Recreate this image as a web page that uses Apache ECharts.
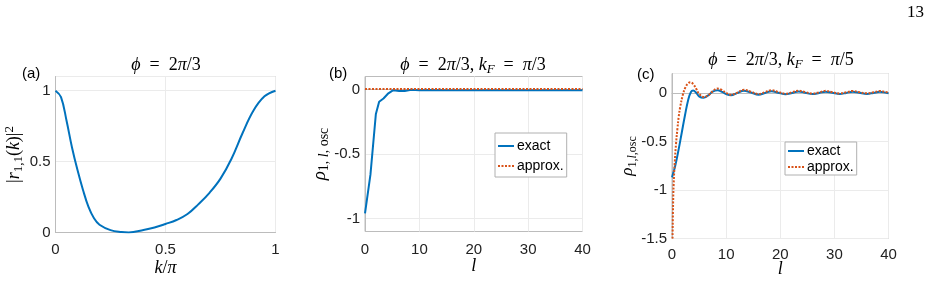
<!DOCTYPE html>
<html>
<head>
<meta charset="utf-8">
<script src="https://cdn.jsdelivr.net/npm/echarts@6/dist/echarts.min.js"></script>
<style>
  html, body { margin: 0; padding: 0; background: #fff; }
  #main { width: 934px; height: 305px; }
</style>
</head>
<body>
<div id="main"></div>
<script>
// (a) |r_{1,1}(k)|^2 against k/pi
const kA = [0, 0.025, 0.05, 0.075, 0.1, 0.125, 0.15, 0.175, 0.2, 0.25, 0.3, 0.333, 0.4, 0.45, 0.5, 0.55, 0.6, 0.65, 0.7, 0.75, 0.8, 0.85, 0.9, 0.95, 1];
const rA = [1, 0.955, 0.79, 0.6, 0.44, 0.3, 0.18, 0.1, 0.055, 0.017, 0.003, 0, 0.017, 0.035, 0.06, 0.088, 0.13, 0.2, 0.28, 0.38, 0.52, 0.7, 0.86, 0.96, 1];

// (b) k_F = pi/3
const lB = [0, 1, 2, 2.6, 3.4, 4.3, 5.2, 6.3, 7.3, 8.5, 10, 12, 15, 20, 30, 40];
const exactB = [-0.96, -0.66, -0.19, -0.095, -0.07, -0.03, -0.006, -0.012, -0.012, -0.003, -0.006, -0.005, -0.006, -0.006, -0.006, -0.006];
const lBa = [0, 40];
const approxB = [0.004, 0.004];

// (c) k_F = pi/5
const lC = [0, 0.6, 1.2, 1.8, 2.4, 3.0, 3.5, 3.9, 4.5, 5.0, 5.8, 6.7, 7.5, 8.4, 9.3, 10.0, 10.9, 12.0, 13.3, 14.6, 16.0, 17.2, 18.4, 19.6, 21.0, 22.2, 23.4, 24.6, 26.0, 27.2, 28.4, 29.6, 31.0, 32.2, 33.4, 34.6, 36.0, 37.2, 38.4, 39.6, 40];
const exactC = [-0.87, -0.75, -0.59, -0.41, -0.23, -0.07, 0.01, 0.025, 0.0, -0.035, -0.05, -0.025, 0.012, 0.028, 0.01, -0.012, -0.025, -0.002, 0.022, 0.004, -0.018, 0.0, 0.018, 0.002, -0.014, 0.0, 0.015, 0.001, -0.012, 0.0, 0.013, 0.001, -0.011, 0.0, 0.012, 0.001, -0.01, 0.0, 0.011, 0.001, -0.004];
const lCa = [0.1, 0.2, 0.3, 0.5, 0.75, 1.0, 1.25, 1.5, 2.0, 2.5, 3.0, 3.4, 4.0, 4.5, 5.0, 5.9, 6.8, 7.6, 8.3, 9.2, 10.0, 10.9, 12.0, 13.3, 14.6, 16.0, 17.2, 18.4, 19.6, 21.0, 22.2, 23.4, 24.6, 26.0, 27.2, 28.4, 29.6, 31.0, 32.2, 33.4, 34.6, 36.0, 37.2, 38.4, 39.6, 40];
const approxC = [-1.5, -1.15, -0.95, -0.72, -0.52, -0.37, -0.24, -0.15, -0.02, 0.06, 0.1, 0.11, 0.085, 0.04, -0.01, -0.042, -0.02, 0.02, 0.045, 0.03, 0.0, -0.02, 0.0, 0.032, 0.012, -0.012, 0.008, 0.027, 0.01, -0.008, 0.007, 0.023, 0.008, -0.006, 0.006, 0.021, 0.008, -0.005, 0.006, 0.02, 0.008, -0.004, 0.006, 0.019, 0.008, 0.004];

const zip = (xs, ys) => xs.map((x, i) => [x, ys[i]]);

const BLUE = '#0072BD';
const ORANGE = '#D95319';
const BOX = '#bcbcbc';
const GRIDC = '#ebebeb';
const SANS = 'Liberation Sans, Arial, sans-serif';
const SERIF = 'Liberation Serif, DejaVu Serif, serif';
const EQ = '\u2002=\u2002';

// rich styles for the LaTeX-ish labels
function math(size, sub) {
  const base = { fontFamily: SERIF, fontSize: size, fontWeight: 'normal', color: '#000', lineHeight: 22 };
  return {
    n: base,
    i: Object.assign({}, base, { fontStyle: 'italic' }),
    sub: { fontFamily: SERIF, fontSize: sub, fontWeight: 'normal', color: '#000', verticalAlign: 'bottom' },
    isub: { fontFamily: SERIF, fontSize: sub, fontWeight: 'normal', fontStyle: 'italic', color: '#000', verticalAlign: 'bottom' },
    sup: { fontFamily: SERIF, fontSize: sub, fontWeight: 'normal', color: '#000', verticalAlign: 'top' }
  };
}

function xAx(idx, min, max, interval, name, gap, margin) {
  return {
    type: 'value', gridIndex: idx, min: min, max: max, interval: interval,
    name: name, nameLocation: 'middle', nameGap: gap, nameMoveOverlap: false,
    nameTextStyle: { rich: math(18, 13) },
    axisLine: { show: true, lineStyle: { color: BOX, width: 1 } },
    axisTick: { show: false },
    axisLabel: { color: '#222', fontFamily: SANS, fontSize: 15, margin: margin },
    splitLine: { show: true, lineStyle: { color: GRIDC, width: 1 } }
  };
}

function yAx(idx, min, max, interval, name, gap, rich) {
  return {
    type: 'value', gridIndex: idx, min: min, max: max, interval: interval,
    name: name, nameLocation: 'middle', nameRotate: 90, nameGap: gap, nameMoveOverlap: false,
    nameTextStyle: { rich: rich },
    axisLine: { show: true, lineStyle: { color: BOX, width: 1 } },
    axisTick: { show: false },
    axisLabel: { color: '#222', fontFamily: SANS, fontSize: 15, margin: 5, showMaxLabel: false },
    splitLine: { show: true, lineStyle: { color: GRIDC, width: 1 } }
  };
}

const yB = yAx(1, -1.1, 0.1, 0.1, '{i|ρ}{sub|1, }{isub|l}{sub|, osc}', 34, math(19, 14));
yB.axisLabel.formatter = function (v) {
  return Math.abs(v * 2 - Math.round(v * 2)) < 1e-6 ? String(Math.round(v * 2) / 2) : '';
};
// only every 5th line (at -1, -0.5, 0) is drawn
yB.splitLine.lineStyle.color = ['rgba(0,0,0,0)', GRIDC, 'rgba(0,0,0,0)', 'rgba(0,0,0,0)', 'rgba(0,0,0,0)'];

const legendBase = {
  orient: 'vertical', itemWidth: 16, itemHeight: 12,
  backgroundColor: '#fff', borderColor: '#b0b0b0', borderWidth: 1, borderRadius: 0,
  itemStyle: { opacity: 0 },
  textStyle: { fontFamily: SANS, fontSize: 14, lineHeight: 14, color: '#000', padding: [0, 0, 0, -2] },
  data: ['exact', 'approx.']
};

const titleRich = math(18, 13);

const option = {
  animation: false,
  backgroundColor: '#fff',
  title: [
    { text: '{i|ϕ}{n|' + EQ + '2}{i|π}{n|/3}', left: 166, top: 54, padding: 0, textAlign: 'center', textStyle: { rich: titleRich } },
    { text: '{i|ϕ}{n|' + EQ + '2}{i|π}{n|/3, }{i|k}{isub|F}{n|' + EQ + '}{i|π}{n|/3}', left: 473, top: 54, padding: 0, textAlign: 'center', textStyle: { rich: titleRich } },
    { text: '{i|ϕ}{n|' + EQ + '2}{i|π}{n|/3, }{i|k}{isub|F}{n|' + EQ + '}{i|π}{n|/5}', left: 781, top: 49, padding: 0, textAlign: 'center', textStyle: { rich: titleRich } },
    { text: '(a)', left: 22, top: 66, padding: 0, textStyle: { fontFamily: SANS, fontSize: 15, fontWeight: 'normal', color: '#000' } },
    { text: '(b)', left: 329, top: 66, padding: 0, textStyle: { fontFamily: SANS, fontSize: 15, fontWeight: 'normal', color: '#000' } },
    { text: '(c)', left: 637, top: 67, padding: 0, textStyle: { fontFamily: SANS, fontSize: 15, fontWeight: 'normal', color: '#000' } },
    { text: '13', left: 907, top: 4, padding: 0, textStyle: { fontFamily: SERIF, fontSize: 17, fontWeight: 'normal', color: '#000' } }
  ],
  legend: [
    Object.assign({}, legendBase, { left: 495, top: 133, itemGap: 6, padding: [6, 3, 4, 2] }),
    Object.assign({}, legendBase, { left: 785, top: 142, itemGap: 2, padding: [2, 3, 1, 2] })
  ],
  grid: [
    { left: 55.5, top: 76.5, width: 220, height: 156, show: true, borderColor: BOX, borderWidth: 1, backgroundColor: 'transparent' },
    { left: 365, top: 76.5, width: 217.5, height: 155, show: true, borderColor: BOX, borderWidth: 1, backgroundColor: 'transparent' },
    { left: 672, top: 73.5, width: 216.5, height: 165, show: true, borderColor: BOX, borderWidth: 1, backgroundColor: 'transparent' }
  ],
  xAxis: [
    xAx(0, 0, 1, 0.5, '{i|k}{n|/}{i|π}', 25, 10),
    xAx(1, 0, 40, 10, '{i|l}', 24, 11),
    xAx(2, 0, 40, 10, '{i|l}', 20, 9)
  ],
  yAxis: [
    yAx(0, 0, 1.1, 0.5, '{n||}{i|r}{sub|1,1}{n|(}{i|k}{n|)|}{sup|2}', 30, math(18, 13)),
    yB,
    yAx(2, -1.5, 0.2, 0.5, '{i|ρ}{sub|1,}{isub|l}{sub|,osc}', 33, math(17, 12))
  ],
  series: [
    { name: 'r', type: 'line', xAxisIndex: 0, yAxisIndex: 0, data: zip(kA, rA), smooth: 0.4, showSymbol: false, symbol: 'none',
      lineStyle: { color: BLUE, width: 2 }, itemStyle: { color: BLUE } },
    { name: 'exact', type: 'line', xAxisIndex: 1, yAxisIndex: 1, data: zip(lB, exactB), showSymbol: false, symbol: 'none',
      lineStyle: { color: BLUE, width: 2 }, itemStyle: { color: BLUE } },
    { name: 'approx.', type: 'line', xAxisIndex: 1, yAxisIndex: 1, data: zip(lBa, approxB), showSymbol: false, symbol: 'none',
      lineStyle: { color: ORANGE, width: 2, type: [2, 1.5] }, itemStyle: { color: ORANGE } },
    { name: 'exact', type: 'line', xAxisIndex: 2, yAxisIndex: 2, data: zip(lC, exactC), smooth: 0.4, showSymbol: false, symbol: 'none',
      lineStyle: { color: BLUE, width: 2 }, itemStyle: { color: BLUE } },
    { name: 'approx.', type: 'line', xAxisIndex: 2, yAxisIndex: 2, data: zip(lCa, approxC), smooth: 0.4, showSymbol: false, symbol: 'none',
      lineStyle: { color: ORANGE, width: 2, type: [2, 1.5] }, itemStyle: { color: ORANGE } }
  ]
};

const chart = echarts.init(document.getElementById('main'));
chart.setOption(option);
</script>
</body>
</html>
